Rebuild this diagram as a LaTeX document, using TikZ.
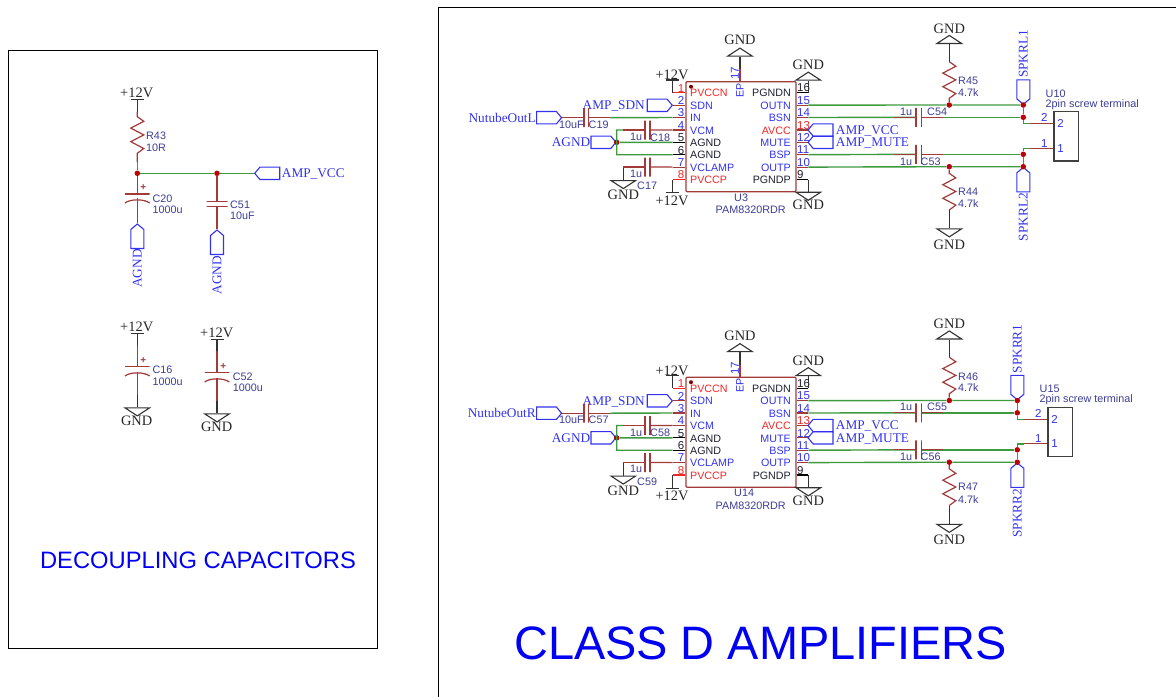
\documentclass[tikz,border=0pt]{standalone}
\usepackage{fontspec}
\setmainfont{Liberation Serif}
\setsansfont{Liberation Sans}
\usetikzlibrary{shapes.symbols,shapes.geometric}
\definecolor{wirered}{HTML}{A23A3A}
\definecolor{pinred}{HTML}{F02828}
\definecolor{wiregreen}{HTML}{3E9A3E}
\definecolor{netblue}{HTML}{3232F0}
\definecolor{desblue}{HTML}{3C3C96}
\definecolor{darktxt}{HTML}{202030}
\tikzset{
  wr/.style={wirered, line width=1.2pt},
  wg/.style={wiregreen, line width=1.4pt},
  wk/.style={black!80, line width=1.2pt},
  netport/.style={signal, draw=netblue, line width=1.1pt, inner sep=0pt, signal pointer angle=100},
  portr/.style={netport, signal to=east, anchor=east, minimum width=25pt, minimum height=12.4pt},
  portl/.style={netport, signal to=west, anchor=west, minimum width=25pt, minimum height=12.4pt},
  portd/.style={netport, signal to=south, anchor=south, minimum width=13pt, minimum height=19pt},
  portu/.style={netport, signal to=north, anchor=north, minimum width=13pt, minimum height=19pt},
  netname/.style={text=netblue, inner sep=0pt, text height=9.5pt, text depth=0.7pt, font=\fontsize{13.3}{13.3}\selectfont},
  pwr/.style={text=black!85, inner sep=0pt, font=\fontsize{14.4}{14.4}\selectfont},
  des/.style={text=desblue, inner sep=0pt, anchor=west, font=\sffamily\fontsize{10.8}{10.8}\selectfont},
  pinnum/.style={inner sep=0pt, font=\sffamily\fontsize{11.5}{11.5}\selectfont},
  pinname/.style={inner sep=0pt, font=\sffamily\fontsize{10.7}{10.7}\selectfont},
  junc/.style={circle, fill=red!75!black, inner sep=0pt, minimum width=5.5pt},
  capv/.style={draw=wirered, line width=1.2pt, inner sep=0pt, minimum width=0pt, minimum height=19pt},
  caph/.style={draw=wirered, line width=1.2pt, inner sep=0pt, minimum height=0pt, minimum width=21pt},
  icbox/.style={draw=wirered, line width=1.3pt, rounded corners=1pt, minimum width=110pt, minimum height=110pt, inner sep=0pt},
  termbox/.style={draw=black!75, line width=1.2pt, minimum width=24.3pt, minimum height=49.3pt, inner sep=0pt},
  gndsym/.style={isosceles triangle, isosceles triangle stretches, draw=black!80, line width=1.1pt, inner sep=0pt, minimum width=24.6pt, minimum height=8pt, anchor=lower side},
  gndup/.style={gndsym, shape border rotate=90},
  gnddn/.style={gndsym, shape border rotate=-90},
  zig/.style={to path={-- ++(6.5,4.6) -- ++(-13,6.8) -- ++(13,6.8) -- ++(-13,6.8) -- ++(13,6.8) -- (\tikztotarget)}}
}
% left half of one amplifier: tag, shift, input net, C in, C vcm, C clamp, U
\newcommand{\ampleft}[7]{
\begin{scope}[shift={(0,#2)}]
  \node[icbox] (#1ic) at (741,136.7) {};
  \foreach \n/\r/\lab/\col/\wcol in {1/0/PVCCN/pinred/pinred, 2/1/SDN/netblue/wirered, 3/2/IN/netblue/wirered,
    4/3/VCM/netblue/wirered, 5/4/AGND/darktxt/black, 6/5/AGND/darktxt/black, 7/6/VCLAMP/netblue/wirered, 8/7/PVCCP/pinred/pinred} {
    \pgfmathsetmacro{\y}{92.7+12.4*\r}
    \coordinate (#1pin\n) at (672.7,\y);
    \draw[\wcol, line width=1.2pt] (#1ic.west |- #1pin\n) -- (#1pin\n);
    \node[pinnum, text=\col, anchor=east] (#1num\n) at (684.5,\y-4.6) {\n};
    \node[pinname, text=\col, anchor=west] (#1lab\n) at (690,\y+0.6) {\lab};
  }
  \foreach \n/\r/\lab/\col/\wcol in {16/0/PGNDN/darktxt/black, 15/1/OUTN/netblue/wirered, 14/2/BSN/netblue/wirered, 13/3/AVCC/pinred/wirered,
    12/4/MUTE/netblue/wirered, 11/5/BSP/netblue/wirered, 10/6/OUTP/netblue/wirered, 9/7/PGNDP/darktxt/black} {
    \pgfmathsetmacro{\y}{92.7+12.4*\r}
    \coordinate (#1pin\n) at (808.3,\y);
    \draw[\wcol, line width=1.2pt] (#1ic.east |- #1pin\n) -- (#1pin\n);
    \node[pinnum, text=\col, anchor=west] (#1num\n) at (797,\y-4.8) {\n};
    \node[pinname, text=\col, anchor=east] (#1lab\n) at (791,\y+0.6) {\lab};
  }
  \node[circle, fill=red!50!black, inner sep=0pt, minimum width=4pt] (#1dot) at (691,86.7) {};
  \node[des] (#1u) at (734,197.7) {#7};
  \node[des] (#1part) at (715.5,210) {PAM8320RDR};
  % EP pad
  \node[gndup] (#1gtop) at (740,56.7) {};
  \node[pwr] (#1gtopt) at (740,40) {GND};
  \coordinate (#1ep) at (740,69.3);
  \draw[wk] (#1gtop.lower side) -- (#1ep);
  \draw[wr] (#1ep) -- (#1ep |- #1ic.north);
  \node[pinnum, text=netblue, rotate=90] (#1num17) at (735,73) {17};
  \node[pinname, text=netblue, rotate=90] (#1labep) at (740,90) {EP};
  % supplies
  \coordinate (#1v1) at (672.7,80);
  \coordinate (#1v8) at (672.7,192.7);
  \draw[wk] (#1pin1) -- (#1v1) ++(-6.5,0) -- ++(13,0);
  \draw[wk] (#1pin8) -- (#1v8) ++(-6.5,0) -- ++(13,0);
  \node[pwr] (#1v1t) at (672,75) {+12V};
  \node[pwr] (#1v8t) at (672,200.7) {+12V};
  \node[gndup] (#1gr) at (808.3,80.7) {};
  \node[pwr] (#1grt) at (808.3,65) {GND};
  \draw[wk] (#1pin16) -- (#1gr.lower side);
  \node[gnddn] (#1gb) at (808.3,191.7) {};
  \node[pwr] (#1gbt) at (808.3,205) {GND};
  \draw[wk] (#1pin9) -- (#1gb.lower side);
  % inputs
  \node[portr] (#1sdn) at (673,105.3) {};
  \node[netname, anchor=east] (#1sdnt) at (645,105.3) {AMP\_SDN};
  \draw[wr] (#1sdn.east) -- (#1pin2);
  \node[portr] (#1in) at (562.3,117.7) {};
  \node[netname, anchor=east] (#1int) at (536,117.7) {#3};
  \node[capv] (#1cia) at (584,117.7) {};
  \node[capv] (#1cib) at (588.3,117.7) {};
  \coordinate (#1cis) at (610,117.7);
  \draw[wr] (#1in.east) -- (#1cia);
  \draw[wr] (#1cib) -- (#1cis);
  \draw[wg] (#1cis) -- (#1pin3);
  \node[des] (#1cival) at (559,124.5) {10uF};
  \node[des] (#1cin) at (588.5,124.5) {#4};
  % vcm and agnd
  \node[portr] (#1ag) at (616.7,142.3) {};
  \node[netname, anchor=east] (#1agt) at (590.5,142.3) {AGND};
  \node[junc] (#1jag) at (616.7,142.3) {};
  \coordinate (#1ag4) at (616.7,130);
  \coordinate (#1ag6) at (616.7,154.7);
  \coordinate (#1ags) at (623.3,130);
  \node[capv] (#1cva) at (645,130) {};
  \node[capv] (#1cvb) at (650,130) {};
  \draw[wg] (#1ags) -- (#1ag4) -- (#1ag6) -- (#1pin6);
  \draw[wg] (#1jag) -- (#1pin5);
  \draw[wr] (#1ags) -- (#1cva);
  \draw[wr] (#1cvb) -- (#1pin4);
  \node[des] (#1cvval) at (630,137.3) {1u};
  \node[des] (#1cvn) at (650,137.3) {#5};
  % vclamp
  \node[capv] (#1cca) at (645,167) {};
  \node[capv] (#1ccb) at (650,167) {};
  \coordinate (#1ccs) at (623.3,167);
  \node[gnddn] (#1gc) at (623.3,180) {};
  \node[pwr] (#1gct) at (623.3,195) {GND};
  \draw[wk] (#1gc.lower side) -- (#1ccs);
  \draw[wr] (#1ccs) -- (#1cca);
  \draw[wr] (#1ccb) -- (#1pin7);
  \node[des] (#1ccval) at (630,173.5) {1u};
  \node[des] (#1ccn) at (637,186) {#6};
\end{scope}
}
% right half of one amplifier: tag, shift, x shift, C top, C bottom, R top, R bottom, U, speaker net
\newcommand{\ampright}[9]{
\begin{scope}[shift={(0,#2)}]
  \node[portl] (#1vcc) at (807.3,130) {};
  \node[portl] (#1mute) at (807.3,142.3) {};
  \node[netname, anchor=west] (#1vcct) at (835.7,130) {AMP\_VCC};
  \node[netname, anchor=west] (#1mutet) at (835.7,142.3) {AMP\_MUTE};
  % top resistor
  \node[junc] (#1jr1) at (949.3,105) {};
  \node[gndup] (#1gr1) at (949.3,44) {};
  \node[pwr] (#1gr1t) at (949.3,28.3) {GND};
  \coordinate (#1r1a) at (949.3,61.7);
  \coordinate (#1r1b) at (949.3,98.3);
  \draw[wk] (#1gr1.lower side) -- (#1r1a);
  \draw[wr] (#1r1a) to[zig] (#1r1b) -- (#1jr1);
  \node[des] (#1r1n) at (958,81) {#6};
  \node[des] (#1r1v) at (958,92.3) {4.7k};
  % bottom resistor
  \node[junc] (#1jr2) at (949.3,166.7) {};
  \node[gnddn] (#1gr2) at (949.3,228.3) {};
  \node[pwr] (#1gr2t) at (949.3,244.3) {GND};
  \coordinate (#1r2a) at (949.3,173.3);
  \coordinate (#1r2b) at (949.3,210);
  \draw[wr] (#1jr2) -- (#1r2a) to[zig] (#1r2b);
  \draw[wk] (#1r2b) -- (#1gr2.lower side);
  \node[des] (#1r2n) at (958,191.7) {#7};
  \node[des] (#1r2v) at (958,204) {4.7k};
  \begin{scope}[shift={(#3,0)}]
    \node[portd] (#1sp1) at (1023.3,105) {};
    \node[portu] (#1sp2) at (1023.3,166.7) {};
    \node[netname, rotate=90, anchor=west] (#1sp1t) at (1023.3,78) {#91};
    \node[netname, rotate=90, anchor=east] (#1sp2t) at (1023.3,193) {#92};
    \node[junc] (#1j15) at (1023.3,105) {};
    \node[junc] (#1j14) at (1023.3,117.3) {};
    \node[junc] (#1j11) at (1023.3,154.3) {};
    \node[junc] (#1j10) at (1023.3,166.7) {};
    \node[termbox] (#1term) at (1066.2,136.3) {};
    \coordinate (#1t2) at (1023.3,123.7);
    \coordinate (#1t1) at (1023.3,148.3);
    \coordinate (#1s2) at (1030,123.7);
    \coordinate (#1s1) at (1030,148.3);
    \node[pinnum, text=netblue] (#1tn2) at (1044.3,117.7) {2};
    \node[pinnum, text=netblue] (#1tn1) at (1044.3,143.3) {1};
    \node[pinnum, text=netblue] (#1tl2) at (1060.5,123.9) {2};
    \node[pinnum, text=netblue] (#1tl1) at (1060.5,148.5) {1};
    \node[des] (#1u) at (1045.5,93.3) {#8};
    \node[des] (#1part) at (1045.5,104.3) {2pin screw terminal};
  \end{scope}
  % outputs
  \node[capv] (#1cta) at (916,117.3) {};
  \node[capv] (#1ctb) at (921.3,117.3) {};
  \node[capv] (#1cba) at (916,154.3) {};
  \node[capv] (#1cbb) at (921.3,154.3) {};
  \draw[wg] (#1pin15) -- (#1jr1) -- (#1j15);
  \draw[wg] (#1pin14) -- (#1cta);
  \draw[wg] (#1ctb) -- (#1j14);
  \draw[wg] (#1pin11) -- (#1cba);
  \draw[wg] (#1cbb) -- (#1j11);
  \draw[wg] (#1pin10) -- (#1jr2) -- (#1j10);
  \draw[wr] (#1cta) -- ++(-22,0);
  \draw[wr] (#1ctb) -- ++(22,0);
  \draw[wr] (#1cba) -- ++(-22,0);
  \draw[wr] (#1cbb) -- ++(22,0);
  \draw[wg] (#1j15) -- (#1j14) -- (#1t2) -- (#1s2);
  \draw[wg] (#1j10) -- (#1j11) -- (#1t1) -- (#1s1);
  \draw[wr] (#1s2) -- (#1term.west |- #1s2);
  \draw[wr] (#1s1) -- (#1term.west |- #1s1);
  \node[des] (#1ctv) at (900,111.7) {1u};
  \node[des] (#1ctn) at (927,111.7) {#4};
  \node[des] (#1cbv) at (900,161.7) {1u};
  \node[des] (#1cbn) at (920.5,161.7) {#5};
\end{scope}
}
\begin{document}
\begin{tikzpicture}[x=1pt, y=-1pt]
  \useasboundingbox (0,0) rectangle (1176,697);
  \draw[black, line width=1pt] (8,50) rectangle (377.5,648);
  \draw[black, line width=1pt] (1176,7) -- (438,7) -- (438,697);
  \node[text=blue!95!black, inner sep=0pt, font=\sffamily\fontsize{23.75}{23.75}\selectfont] (titlea) at (198,560) {DECOUPLING CAPACITORS};
  \node[text=blue!95!black, inner sep=0pt, font=\sffamily\fontsize{46.9}{46.9}\selectfont] (titleb) at (760.5,643) {CLASS D AMPLIFIERS};
  % input filter
  \coordinate (vt) at (137.3,99.3);
  \coordinate (ra) at (137.3,116.7);
  \coordinate (rb) at (137.3,153.3);
  \coordinate (rs) at (137.3,162);
  \node[junc] (ja) at (137.3,173.3) {};
  \node[junc] (jb) at (217,173.3) {};
  \node[portl] (vcc) at (254,173.3) {};
  \node[netname, anchor=west] (vcct) at (281.7,173.3) {AMP\_VCC};
  \node[pwr] (vtt) at (136.7,92.7) {+12V};
  \draw[wk] (vt) ++(-6.5,0) -- ++(13,0);
  \draw[wk] (vt) -- (ra |- 0,111.7);
  \draw[wr] (ra |- 0,111.7) -- (ra) to[zig] (rb) -- (rs);
  \draw[wg] (rs) -- (ja);
  \draw[wg] (ja) -- (jb) -- (vcc.west);
  \node[des] (r43n) at (146,135.7) {R43};
  \node[des] (r43v) at (146,147.7) {10R};
  % C20
  \node[caph, minimum width=24.5pt] (c20p) at (137.3,194) {};
  \node[portu] (ag1) at (137.3,223.3) {};
  \node[netname, rotate=90, anchor=east] (ag1t) at (137.3,249) {AGND};
  \coordinate (c20m) at (137.3,198.3);
  \draw[wr] (ja) -- (c20p);
  \draw[wr] (c20m) -- (ag1.north);
  \draw[wr] (125,203) .. controls (130,198.8) and (144.5,198.8) .. (149.6,203);
  \node[text=wirered, inner sep=0pt, font=\sffamily\bfseries\fontsize{10}{10}\selectfont] (c20s) at (143.3,187.7) {+};
  \node[des] (c20n) at (152.3,198.3) {C20};
  \node[des] (c20v) at (152.3,209.3) {1000u};
  % C51
  \node[caph] (c51a) at (217,201.7) {};
  \node[caph] (c51b) at (217,206.7) {};
  \node[portu] (ag2) at (217,229.3) {};
  \node[netname, rotate=90, anchor=east] (ag2t) at (217,255.7) {AGND};
  \draw[wr] (jb) -- (c51a);
  \draw[wr] (c51b) -- (ag2.north);
  \node[des] (c51n) at (230,204.3) {C51};
  \node[des] (c51v) at (230,215.7) {10uF};
  % C16
  \coordinate (c16t) at (137.3,333.3);
  \coordinate (c16s) at (137.3,345);
  \coordinate (c16m) at (137.3,371.7);
  \coordinate (c16e) at (137.3,395);
  \node[caph, minimum width=24.5pt] (c16p) at (137.3,366.7) {};
  \node[gnddn] (g16) at (137.3,407.3) {};
  \node[pwr] (c16tt) at (136.7,327.3) {+12V};
  \node[pwr] (g16t) at (136.7,421) {GND};
  \draw[wk] (c16t) ++(-6.5,0) -- ++(13,0);
  \draw[wk] (c16t) -- (c16s);
  \draw[wr] (c16s) -- (c16p);
  \draw[wr] (c16m) -- (c16e);
  \draw[wk] (c16e) -- (g16.lower side);
  \draw[wr] (125,376) .. controls (130,371.8) and (144.5,371.8) .. (149.6,376);
  \node[text=wirered, inner sep=0pt, font=\sffamily\bfseries\fontsize{10}{10}\selectfont] (c16s2) at (143.3,360.7) {+};
  \node[des] (c16n) at (152.3,370) {C16};
  \node[des] (c16v) at (152.3,381.7) {1000u};
  % C52
  \coordinate (c52t) at (217,339.3);
  \coordinate (c52s) at (217,351);
  \coordinate (c52m) at (217,377.7);
  \coordinate (c52e) at (217,401);
  \node[caph, minimum width=24.5pt] (c52p) at (217,372.7) {};
  \node[gnddn] (g52) at (217,413.3) {};
  \node[pwr] (c52tt) at (216.7,333.3) {+12V};
  \node[pwr] (g52t) at (216.7,426.7) {GND};
  \draw[wk] (c52t) ++(-6.5,0) -- ++(13,0);
  \draw[wk] (c52t) -- (c52s);
  \draw[wr] (c52s) -- (c52p);
  \draw[wr] (c52m) -- (c52e);
  \draw[wk] (c52e) -- (g52.lower side);
  \draw[wr] (204.7,382) .. controls (209.7,377.8) and (224.2,377.8) .. (229.3,382);
  \node[text=wirered, inner sep=0pt, font=\sffamily\bfseries\fontsize{10}{10}\selectfont] (c52s2) at (223.3,366.7) {+};
  \node[des] (c52n) at (232.7,376.7) {C52};
  \node[des] (c52v) at (232.7,387.7) {1000u};
  % amplifiers
  \ampleft{a}{0}{NutubeOutL}{C19}{C18}{C17}{U3}
  \ampright{a}{0}{0}{C54}{C53}{R45}{R44}{U10}{SPKRL}
  \ampleft{b}{295.5}{NutubeOutR}{C57}{C58}{C59}{U14}
  \ampright{b}{295.5}{-6}{C55}{C56}{R46}{R47}{U15}{SPKRR}
\end{tikzpicture}
\end{document}
